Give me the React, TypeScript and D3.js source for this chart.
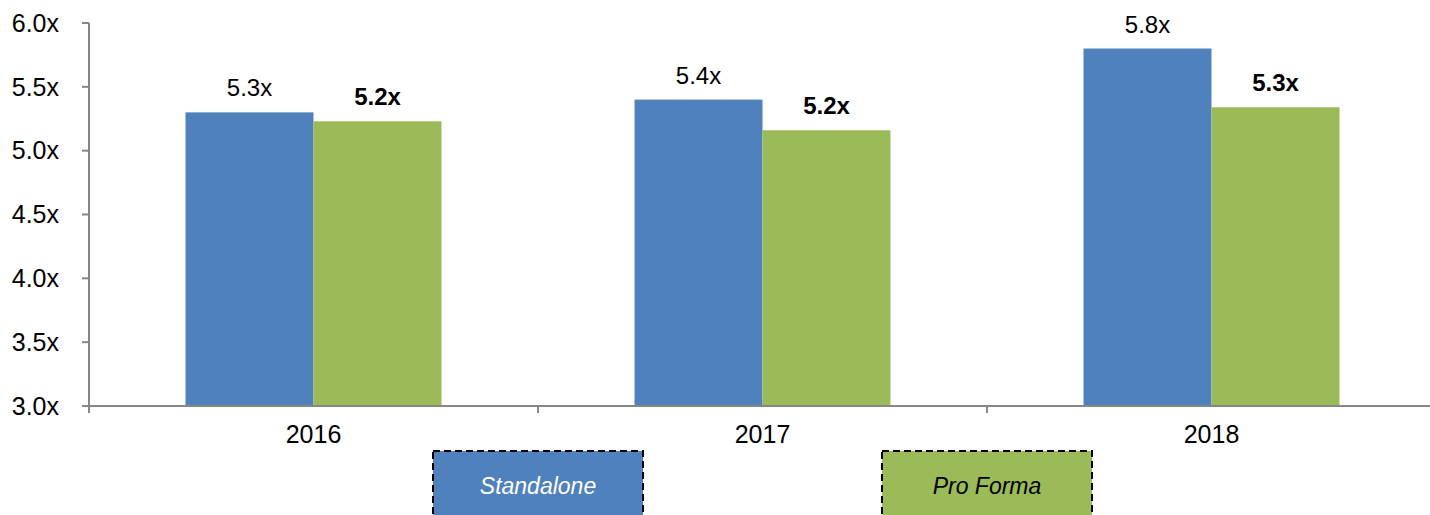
import { useEffect, useRef } from 'react';
import * as d3 from 'd3';

const years = ['2016', '2017', '2018'];
const standalone = [5.3, 5.4, 5.8];
const proForma = [5.23, 5.16, 5.34];
const standaloneLabels = ['5.3x', '5.4x', '5.8x'];
const proFormaLabels = ['5.2x', '5.2x', '5.3x'];
const yTicks = [3.0, 3.5, 4.0, 4.5, 5.0, 5.5, 6.0];

const W = 1430;
const H = 515;
const BLUE = '#4F81BD';
const GREEN = '#9BBB59';
const AXIS = '#868686';
const FONT = 'Arial, "Liberation Sans", sans-serif';

export default function App() {
  const svgRef = useRef<SVGSVGElement | null>(null);

  useEffect(() => {
    if (!svgRef.current) return;
    const svg = d3.select(svgRef.current);
    svg.selectAll('*').remove();

    const x0 = 89;
    const x1 = 1436;
    const y = d3.scaleLinear().domain([3, 6]).range([406, 23]);
    const x = d3.scaleBand<string>().domain(years).range([x0, x1]);
    const barW = 128;

    // y axis
    svg.append('line')
      .attr('x1', x0).attr('x2', x0)
      .attr('y1', y(6)).attr('y2', y(3))
      .attr('stroke', AXIS).attr('stroke-width', 2);
    const yt = svg.append('g');
    yTicks.forEach((t) => {
      yt.append('line')
        .attr('x1', x0 - 7).attr('x2', x0)
        .attr('y1', y(t)).attr('y2', y(t))
        .attr('stroke', AXIS).attr('stroke-width', 2);
      yt.append('text')
        .attr('x', 59).attr('y', y(t))
        .attr('dy', '0.35em')
        .attr('text-anchor', 'end')
        .attr('font-family', FONT)
        .attr('font-size', 25)
        .attr('fill', '#000')
        .text(t.toFixed(1) + 'x');
    });

    // bars
    const bars = svg.append('g');
    years.forEach((yr, i) => {
      const cx = x(yr)! + x.bandwidth() / 2;
      bars.append('rect')
        .attr('x', cx - barW).attr('y', y(standalone[i]))
        .attr('width', barW).attr('height', y(3) - y(standalone[i]))
        .attr('fill', BLUE);
      bars.append('rect')
        .attr('x', cx).attr('y', y(proForma[i]))
        .attr('width', barW).attr('height', y(3) - y(proForma[i]))
        .attr('fill', GREEN);
      bars.append('text')
        .attr('x', cx - barW / 2).attr('y', y(standalone[i]) - 16)
        .attr('text-anchor', 'middle')
        .attr('font-family', FONT).attr('font-size', 24)
        .text(standaloneLabels[i]);
      bars.append('text')
        .attr('x', cx + barW / 2).attr('y', y(proForma[i]) - 16)
        .attr('text-anchor', 'middle')
        .attr('font-family', FONT).attr('font-size', 24)
        .attr('font-weight', 'bold')
        .text(proFormaLabels[i]);
    });

    // x axis
    svg.append('line')
      .attr('x1', x0 - 7).attr('x2', W)
      .attr('y1', y(3)).attr('y2', y(3))
      .attr('stroke', AXIS).attr('stroke-width', 2);
    years.forEach((yr) => {
      const tx = x(yr)!;
      svg.append('line')
        .attr('x1', tx).attr('x2', tx)
        .attr('y1', y(3)).attr('y2', y(3) + 7)
        .attr('stroke', AXIS).attr('stroke-width', 2);
      svg.append('text')
        .attr('x', tx + x.bandwidth() / 2).attr('y', 443)
        .attr('text-anchor', 'middle')
        .attr('font-family', FONT).attr('font-size', 25)
        .text(yr);
    });
    svg.append('line')
      .attr('x1', x(years[2])! + x.bandwidth()).attr('x2', x(years[2])! + x.bandwidth())
      .attr('y1', y(3)).attr('y2', y(3) + 7)
      .attr('stroke', AXIS).attr('stroke-width', 2);

    // legend boxes
    const legend = [
      { name: 'Standalone', fill: BLUE, text: '#fff', cx: x(years[1])! },
      { name: 'Pro Forma', fill: GREEN, text: '#000', cx: x(years[2])! },
    ];
    legend.forEach((l) => {
      svg.append('rect')
        .attr('x', l.cx - 105).attr('y', 451)
        .attr('width', 210).attr('height', 80)
        .attr('fill', l.fill)
        .attr('stroke', '#000').attr('stroke-width', 2)
        .attr('stroke-dasharray', '7,4');
      svg.append('text')
        .attr('x', l.cx).attr('y', 486)
        .attr('dy', '0.35em')
        .attr('text-anchor', 'middle')
        .attr('font-family', FONT).attr('font-size', 23)
        .attr('font-style', 'italic')
        .attr('fill', l.text)
        .text(l.name);
    });
  }, []);

  return (
    <svg
      ref={svgRef}
      width={W}
      height={H}
      style={{ position: 'absolute', left: 0, top: 0, display: 'block', background: '#fff' }}
    />
  );
}
